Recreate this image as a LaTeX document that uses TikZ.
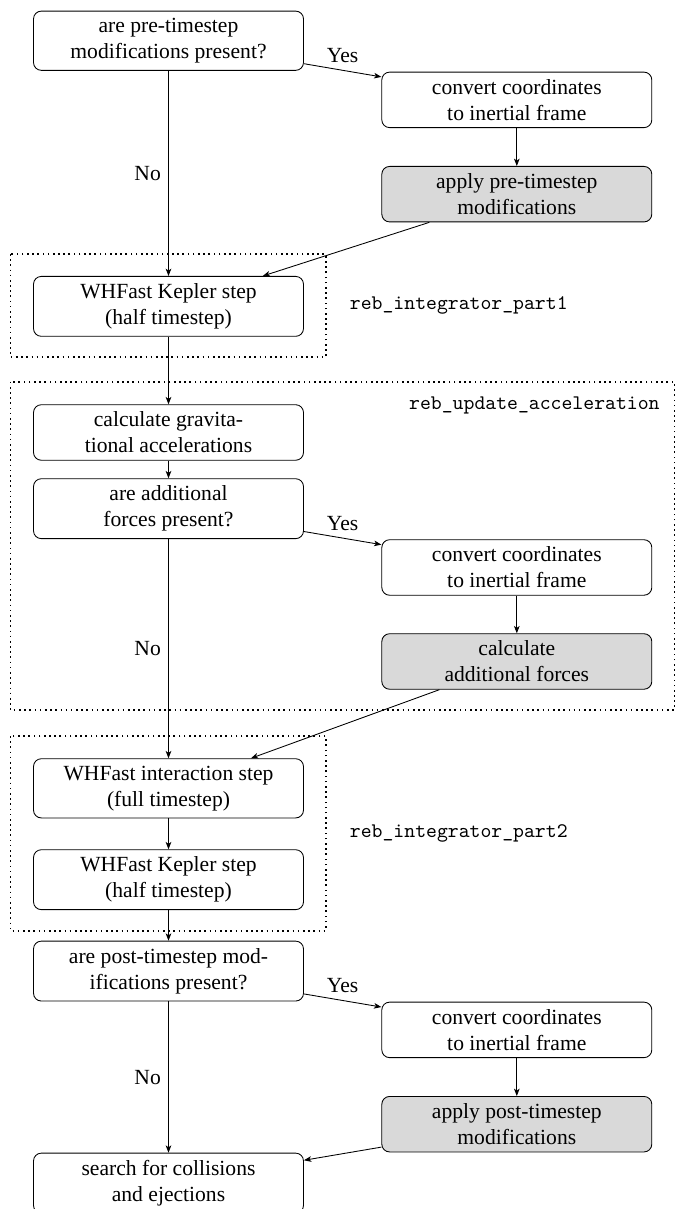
\documentclass[tikz,border=0pt]{standalone}
\usepackage{fontspec}
\setmainfont{Liberation Serif}
\usetikzlibrary{arrows.meta}
\begin{document}
\begin{tikzpicture}[x=0.463pt,y=-0.463pt,
  box/.style={draw, rounded corners=3.6pt, minimum width=125pt, align=center,
    inner sep=3.33pt, font=\fontsize{10}{12}\selectfont},
  shadebox/.style={box, fill=black!15},
  arr/.style={-{Stealth[length=3.4pt,width=2.6pt,inset=0.9pt]}},
  grp/.style={dash pattern=on 0.75pt off 1.65pt, line width=0.75pt},
  lbl/.style={font=\fontsize{10}{12}\selectfont, inner sep=3.33pt},
  code/.style={font=\fontsize{9.6}{11.5}\selectfont\ttfamily, inner sep=0pt}]
\useasboundingbox (0,0) rectangle (676,1209);

\node[box, anchor=north] (q1) at (168.5,10.7) {are pre-timestep\\modifications present?};
\node[box, anchor=north] (c1) at (516.8,71.7) {convert coordinates\\to inertial frame};
\node[shadebox, anchor=north] (a1) at (516.8,166) {apply pre-timestep\\modifications};
\node[box, anchor=north] (k1) at (168.5,276) {WHFast Kepler step\\(half timestep)};
\node[box, anchor=north] (g) at (168.5,404.3) {calculate gravita-\\tional accelerations};
\node[box, anchor=north] (q2) at (168.5,478.3) {are additional\\forces present?};
\node[box, anchor=north] (c2) at (516.8,539.3) {convert coordinates\\to inertial frame};
\node[shadebox, anchor=north] (f) at (516.8,633.3) {calculate\\additional forces};
\node[box, anchor=north] (i) at (168.5,758.3) {WHFast interaction step\\(full timestep)};
\node[box, anchor=north] (k2) at (168.5,849.3) {WHFast Kepler step\\(half timestep)};
\node[box, anchor=north] (q3) at (168.5,940.7) {are post-timestep mod-\\ifications present?};
\node[box, anchor=north] (c3) at (516.8,1001.7) {convert coordinates\\to inertial frame};
\node[shadebox, anchor=north] (a3) at (516.8,1096) {apply post-timestep\\modifications};
\node[box, anchor=north] (s) at (168.5,1152.7) {search for collisions\\and ejections};

\draw[grp] (10.4,254) rectangle (325.7,357.3);
\draw[grp] (10.4,381.7) rectangle (674.4,710);
\draw[grp] (10.4,736) rectangle (325.7,930.7);

\node[code, anchor=west] (l1) at (349.5,305) {reb\_integrator\_part1};
\node[code, anchor=base east] (l2) at (660,409.3) {reb\_update\_acceleration};
\node[code, anchor=west] (l3) at (349.5,833.3) {reb\_integrator\_part2};

\draw[arr] (q1) -- node[midway,left,lbl] {No} (k1);
\draw[arr] (q1) -- node[midway,above,lbl] {Yes} (c1);
\draw[arr] (c1) -- (a1);
\draw[arr] (a1) -- (k1);
\draw[arr] (k1) -- (g);
\draw[arr] (g) -- (q2);
\draw[arr] (q2) -- node[midway,left,lbl] {No} (i);
\draw[arr] (q2) -- node[midway,above,lbl] {Yes} (c2);
\draw[arr] (c2) -- (f);
\draw[arr] (f) -- (i);
\draw[arr] (i) -- (k2);
\draw[arr] (k2) -- (q3);
\draw[arr] (q3) -- node[midway,left,lbl] {No} (s);
\draw[arr] (q3) -- node[midway,above,lbl] {Yes} (c3);
\draw[arr] (c3) -- (a3);
\draw[arr] (a3) -- (s);
\end{tikzpicture}
\end{document}
